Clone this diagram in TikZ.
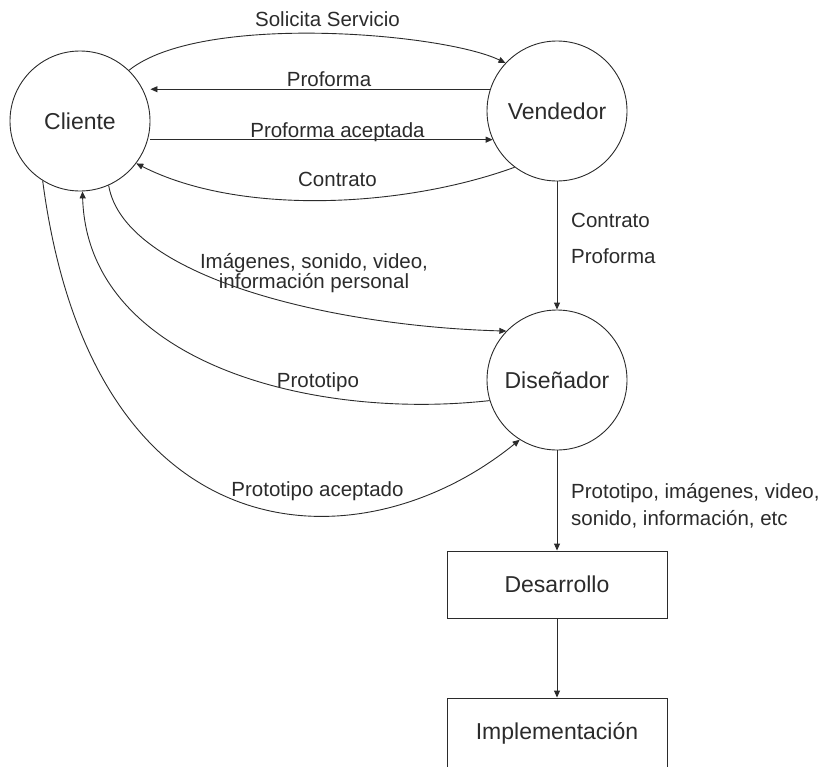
\documentclass[tikz,border=0pt]{standalone}
\usepackage{fontspec}
\setmainfont{Liberation Sans}
\usepackage{tikz}
\usetikzlibrary{arrows.meta,positioning}
\definecolor{inkgray}{HTML}{2B2B2B}
\newcommand{\lblfont}[1]{\fontsize{20.5}{#1}\selectfont\lineskiplimit=-20pt\relax}

\begin{document}
\begin{tikzpicture}[x=1pt, y=1pt,
    actor/.style={circle, draw=inkgray, line width=0.9pt, minimum size=140pt, inner sep=0pt, text=inkgray, font=\fontsize{23}{27}\selectfont},
    stage/.style={rectangle, draw=inkgray, line width=0.9pt, minimum width=220pt, inner sep=0pt, text=inkgray, font=\fontsize{23}{27}\selectfont},
    flow/.style={draw=inkgray, line width=0.9pt, -{Triangle[length=7pt,width=6pt]}},
    lbl/.style={inner sep=0pt, text=inkgray, font=\lblfont{15}}]
    \useasboundingbox (0,0) rectangle (829,-766);
    \clip (0,0) rectangle (829,-766);

    % Actors
    \node[actor] (cliente) at (80,-121) {Cliente};
    \node[actor] (vendedor) at (557,-111) {Vendedor};
    \node[actor] (disenador) at (557,-380) {Diseñador};
    \node[stage, minimum height=67pt] (desarrollo) at (557,-584.5) {Desarrollo};
    \node[stage, minimum height=70pt] (implementacion) at (557,-733) {Implementación};

    % Cliente <-> Vendedor
    \draw[flow] (cliente.46) .. controls +(72,58) and +(-62,30) .. (vendedor.137);
    \draw[flow] (vendedor.162) -- (vendedor.162 -| cliente.east);
    \draw[flow] (cliente.east |- vendedor.204) -- (vendedor.204);
    \draw[flow] (vendedor.233) .. controls +(-110,-40) and +(104,-53) .. (cliente.-37);

    % Cliente <-> Diseñador
    \draw[flow] (cliente.-66) .. controls +(15,-90) and +(-180,5) .. (disenador.136);
    \draw[flow] (disenador.197) .. controls +(-180,-20) and +(5,-170) .. (cliente.-88);
    \draw[flow] (cliente.238) .. controls +(50,-380) and +(-160,-130) .. (disenador.238);

    % Down the chain
    \draw[flow] (vendedor.south) -- (disenador.north);
    \draw[flow] (disenador.south) -- (desarrollo.north);
    \draw[flow] (desarrollo.south) -- (implementacion.north);

    % Labels
    \node[lbl, anchor=base] (lsolicita) at (327.5,-26.7) {Solicita Servicio};
    \node[lbl, anchor=base] (lproforma) at (329,-86.7) {Proforma};
    \node[lbl, anchor=base] (laceptada) at (337.5,-137) {Proforma aceptada};
    \node[lbl, anchor=base] (lcontrato) at (337.5,-186.7) {Contrato};
    \node[lbl, anchor=north, align=center, font=\lblfont{20}] (lmaterial) at (314,-253) {Imágenes, sonido, video,\\información personal};
    \node[lbl, anchor=base] (lprototipo) at (318,-387) {Prototipo};
    \node[lbl, anchor=base] (lprotacept) at (317.5,-496.7) {Prototipo aceptado};
    \node[lbl, anchor=north west, align=left, font=\lblfont{36}] (ldocs) at (571,-213) {Contrato\\Proforma};
    \node[lbl, anchor=north west, align=left, font=\lblfont{27}] (lentrega) at (571,-483) {Prototipo, imágenes, video,\\sonido, información, etc};
\end{tikzpicture}
\end{document}
